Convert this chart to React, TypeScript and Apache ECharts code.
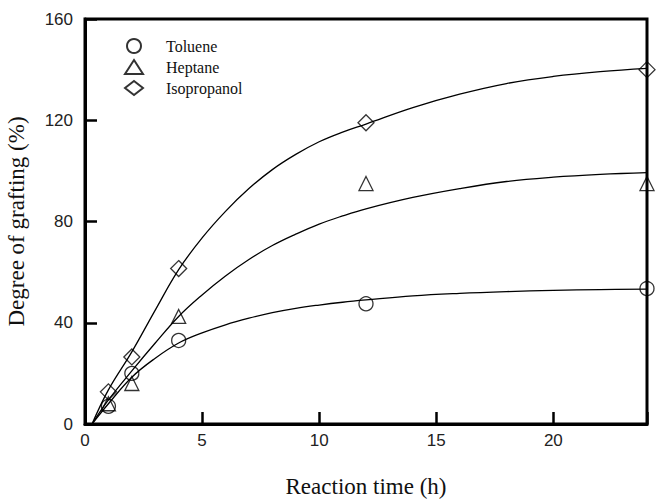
import React, { useEffect, useRef } from "react";
import * as echarts from "echarts";

const seriesNames = ["Toluene", "Heptane", "Isopropanol"];
const symbols = ["circle", "triangle", "diamond"];
const symbolSizes = [14, 14, 16];

const timePoints = [1, 2, 4, 12, 24];
const tolueneValues = [7, 20, 33, 47.5, 53.5];
const heptaneValues = [8, 16, 42.5, 95, 95];
const isopropanolValues = [12.7, 26.5, 61.4, 119, 140];

const curveTimes = [0.3, 1, 2, 3, 4, 5, 6, 7, 8, 9, 10, 11, 12, 14, 16, 18, 20, 22, 24];
const tolueneCurve = [0, 8, 18.5, 26, 32, 36, 39.2, 41.8, 44, 45.7, 47, 48.1, 49, 50.6, 51.6, 52.3, 52.8, 53.1, 53.3];
const heptaneCurve = [0, 9.5, 21, 32, 42.5, 51, 58.5, 65, 70.5, 75, 79, 82.2, 85, 89.5, 93, 95.8, 97.5, 98.6, 99.3];
const isopropanolCurve = [0, 13.5, 28.5, 45, 61, 73.5, 84, 93, 100.5, 106.5, 111.5, 115.3, 118.5, 125, 130.3, 134.5, 137.3, 139.2, 140.5];

const yTicks = [0, 40, 80, 120, 160];
const xTicks = [0, 5, 10, 15, 20];

export default function App() {
  const ref = useRef<HTMLDivElement>(null);
  useEffect(() => {
    if (!ref.current) return;
    const chart = echarts.init(ref.current, null, { renderer: "svg" });
    const values = [tolueneValues, heptaneValues, isopropanolValues];
    const curves = [tolueneCurve, heptaneCurve, isopropanolCurve];
    const lineSeries = curves.map((c, i) => ({
      name: seriesNames[i] + " fit",
      type: "line",
      data: c.map((y, j) => [curveTimes[j], y]),
      smooth: 0.4,
      symbol: "none",
      lineStyle: { color: "#000", width: 1.3 },
      z: 2,
    }));
    const scatterSeries = values.map((v, i) => ({
      name: seriesNames[i],
      type: "scatter",
      data: v.map((y, j) => [timePoints[j], y]),
      symbol: symbols[i],
      symbolSize: symbolSizes[i],
      itemStyle: { color: "rgba(255,255,255,0)", borderColor: "#000", borderWidth: 1.3 },
      z: 3,
    }));
    chart.setOption({
      animation: false,
      backgroundColor: "#fff",
      grid: {
        left: 85,
        right: 17,
        top: 19,
        bottom: 78,
        containLabel: false,
        outerBoundsMode: "none",
        show: true,
        borderColor: "#000",
        borderWidth: 3,
      },
      legend: {
        data: seriesNames,
        orient: "vertical",
        left: 119,
        top: 33,
        itemWidth: 18,
        itemHeight: 14,
        itemGap: 5,
        textStyle: {
          fontFamily: "Liberation Serif",
          fontSize: 16,
          color: "#111",
          padding: [0, 0, 0, 18],
        },
        selectedMode: false,
      },
      xAxis: {
        type: "value",
        min: 0,
        max: 24,
        interval: 5,
        name: "Reaction time (h)",
        nameLocation: "middle",
        nameGap: 51,
        nameTextStyle: { fontFamily: "Liberation Serif", fontSize: 23, color: "#111" },
        axisLine: { show: true, onZero: false, lineStyle: { color: "#000", width: 3 } },
        axisTick: { show: true, inside: true, length: 12, lineStyle: { color: "#000", width: 2.5 } },
        axisLabel: {
          fontFamily: "Liberation Sans",
          fontSize: 17,
          color: "#222",
          margin: 8,
          formatter: (v: number) => (xTicks.includes(v) ? String(v) : ""),
        },
        splitLine: { show: false },
      },
      yAxis: {
        type: "value",
        min: 0,
        max: 160,
        interval: 40,
        name: "Degree of grafting (%)",
        nameLocation: "middle",
        nameGap: 57,
        nameTextStyle: { fontFamily: "Liberation Serif", fontSize: 23, color: "#111" },
        axisLine: { show: true, lineStyle: { color: "#000", width: 3 } },
        axisTick: { show: true, inside: true, length: 12, lineStyle: { color: "#000", width: 2.5 } },
        axisLabel: {
          fontFamily: "Liberation Sans",
          fontSize: 17,
          color: "#222",
          margin: 12,
          formatter: (v: number) => (yTicks.includes(v) ? String(v) : ""),
        },
        splitLine: { show: false },
      },
      series: [...lineSeries, ...scatterSeries],
    });
    return () => chart.dispose();
  }, []);
  return <div ref={ref} style={{ width: 664, height: 502, position: "absolute", left: 0, top: 0 }} />;
}
